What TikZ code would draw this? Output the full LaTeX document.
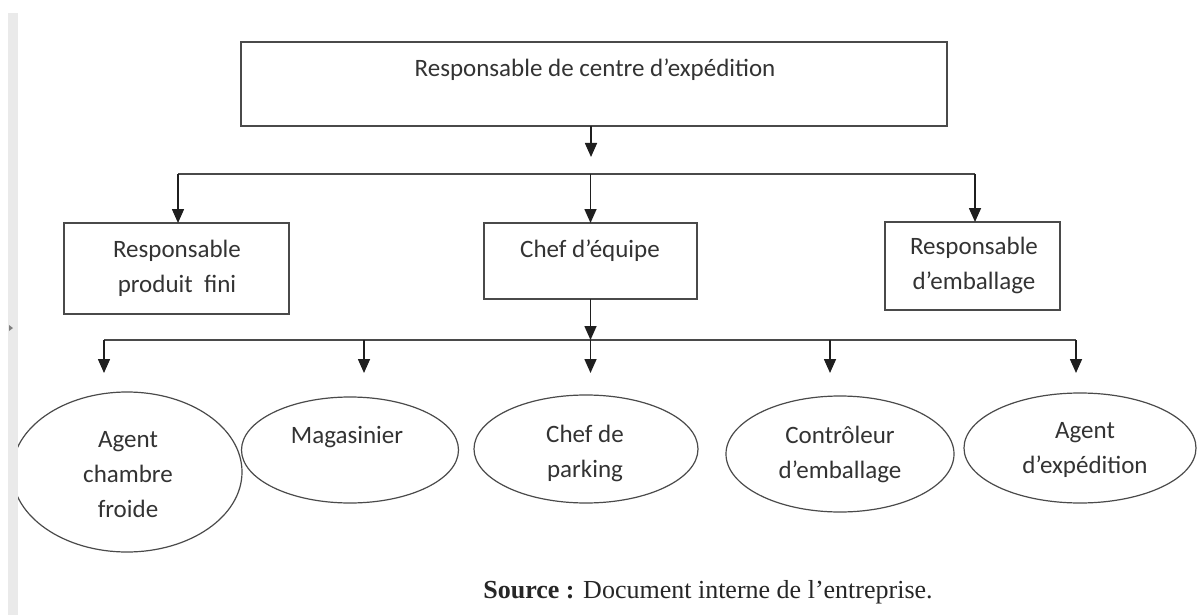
\documentclass[tikz,border=0pt]{standalone}
\usepackage{fontspec}
\setmainfont{Carlito}
\newfontfamily\srcfont{Liberation Serif}
\usetikzlibrary{arrows.meta,shapes.geometric}
\definecolor{ink}{HTML}{333333}
\definecolor{edge}{HTML}{4A4A4A}
\definecolor{strip}{HTML}{EAEAEA}
\begin{document}
\begin{tikzpicture}[x=1pt,y=-1pt,
  box/.style={draw=edge, line width=1.6pt, rectangle, inner sep=0pt, outer sep=0pt},
  oval/.style={ellipse, draw=edge, line width=1.2pt, inner sep=0pt, outer sep=0pt},
  lbl/.style={font=\fontsize{25}{35}\selectfont, text=ink, inner sep=0pt, align=center, anchor=base},
  src/.style={font=\srcfont\fontsize{26}{30}\selectfont, text=black!85, inner sep=0pt, anchor=base},
  link/.style={draw=edge, line width=1.6pt},
  arr/.style={draw=black!88, line width=1.6pt, -{Triangle[width=12pt,length=14pt]}}
]
% page
\path[use as bounding box] (0,0) rectangle (1197,615);
\fill[white] (0,0) rectangle (1197,615);

% level 1 (multi-line labels sit on the baseline of their last line)
\node[box, minimum width=706pt, minimum height=84pt] (top) at (594,84) {};
\node[lbl] (topt) at (595,77) {Responsable de centre d’expédition};

% level 2
\node[box, minimum width=225pt, minimum height=91pt] (pf) at (176.5,268.5) {};
\node[lbl] (pft) at (177,292) {Responsable\\produit~~fini};
\node[box, minimum width=213pt, minimum height=76pt] (chef) at (590.5,261) {};
\node[lbl] (cheft) at (590,257) {Chef d’équipe};
\node[box, minimum width=175pt, minimum height=88pt] (emb) at (972.5,266) {};
\node[lbl] (embt) at (974,289) {Responsable\\d’emballage};

% level 3
\node[oval, minimum width=230pt, minimum height=160pt] (ag) at (127,472) {};
\node[lbl] (agt) at (128,517) {Agent\\chambre\\froide};
\node[oval, minimum width=217pt, minimum height=106pt] (mag) at (350,450) {};
\node[lbl] (magt) at (347,443) {Magasinier};
\node[oval, minimum width=224pt, minimum height=108pt] (park) at (586,449) {};
\node[lbl] (parkt) at (585,477) {Chef de\\parking};
\node[oval, minimum width=228pt, minimum height=116pt] (ctl) at (840,454) {};
\node[lbl] (ctlt) at (840,478) {Contrôleur\\d’emballage};
\node[oval, minimum width=232pt, minimum height=110pt] (exp) at (1080,448) {};
\node[lbl] (expt) at (1085,473) {Agent\\d’expédition};

% connectors, level 1 to 2
\coordinate (t1) at (591,157);
\coordinate (b1l) at (178,174);
\coordinate (b1r) at (975,174);
\draw[link] (b1l) -- (b1r);
\draw[arr] (top.south -| t1) -- (t1);
\draw[arr] (b1l) -- (b1l |- pf.north);
\draw[arr] (chef.north |- b1l) -- (chef.north);
\draw[arr] (b1r) -- (b1r |- emb.north);

% connectors, level 2 to 3
\coordinate (b2c) at (590.5,340);
\coordinate (b2l) at (104,340);
\coordinate (b2r) at (1076,340);
\draw[link] (b2l) -- (b2r);
\draw[arr] (chef.south) -- (b2c);
\coordinate (d1) at (104,373);
\coordinate (d2) at (364,373);
\coordinate (d3) at (590.5,373);
\coordinate (d4) at (830,373);
\coordinate (d5) at (1076,373);
\foreach \d in {d1,d2,d3,d4,d5}
  \draw[arr] (\d |- b2l) -- (\d);

% source line
\node[src] (srct) at (708,598) {\textbf{Source :} Document interne de l’entreprise.};

% side strip
\fill[strip] (8,13) rectangle (18,615);
\fill[edge!70] (9,325) -- (13,328) -- (9,331) -- cycle;
\end{tikzpicture}
\end{document}
